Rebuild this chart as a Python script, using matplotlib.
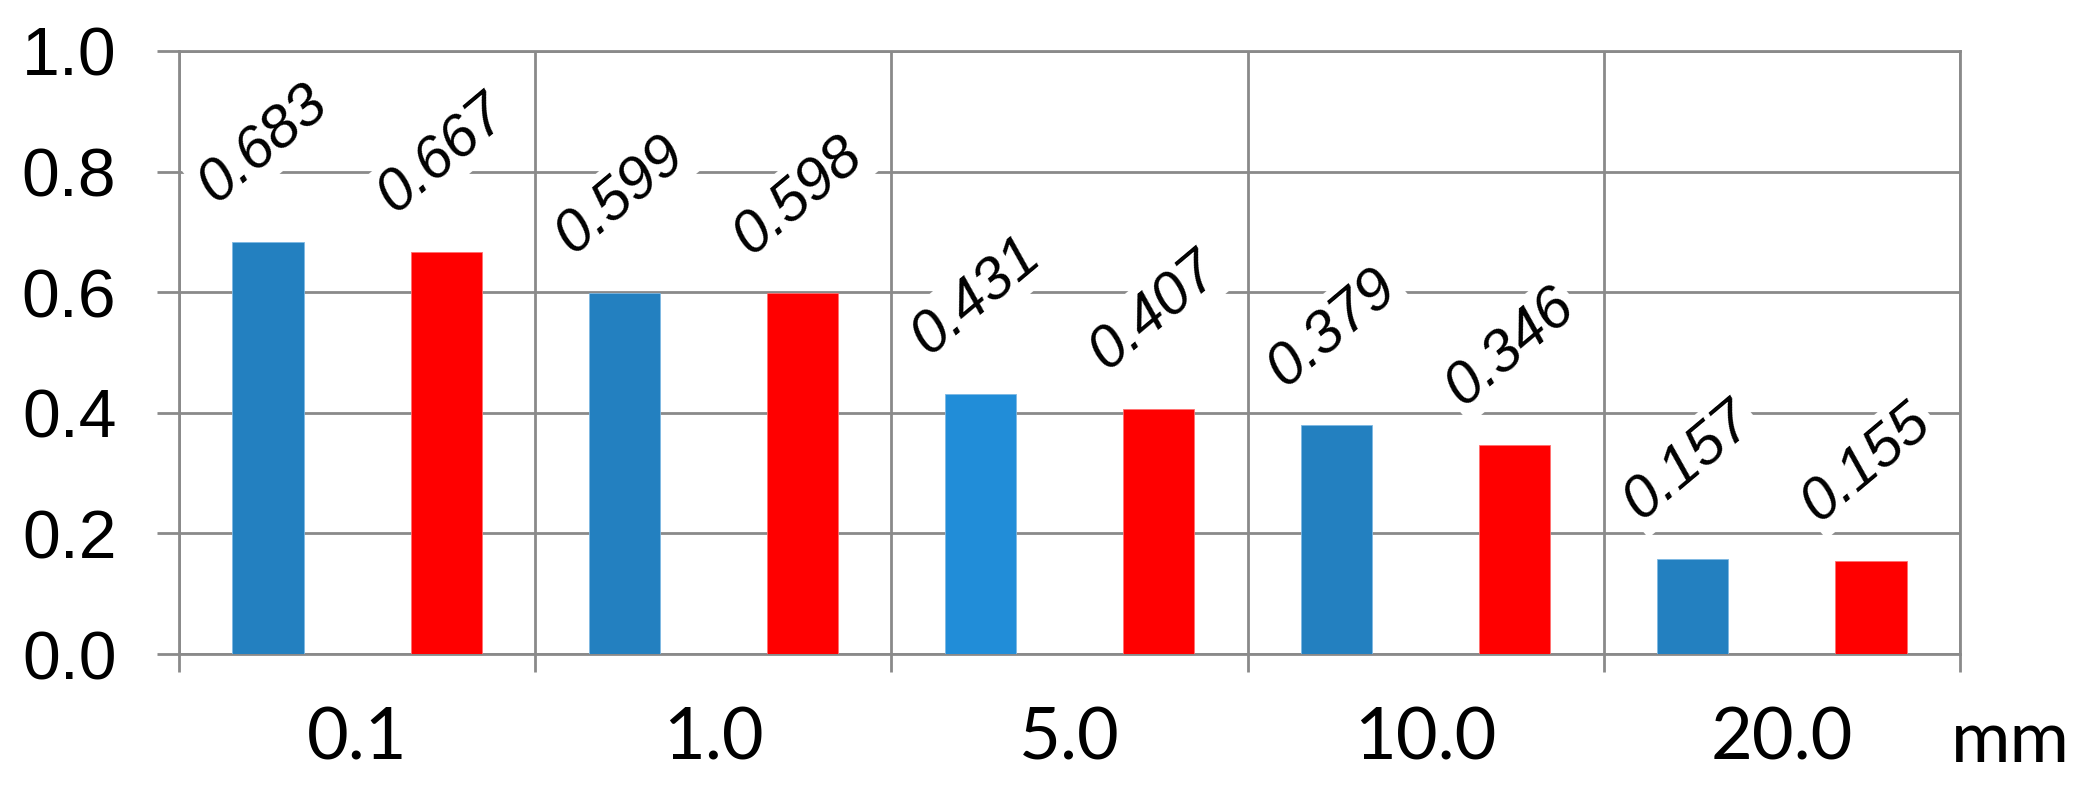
import matplotlib
matplotlib.use("Agg")
import numpy as np
import matplotlib.pyplot as plt
from matplotlib.ticker import FixedLocator, NullFormatter, FixedFormatter

# data
categories = ["0.1", "1.0", "5.0", "10.0", "20.0"]
blue_values = [0.683, 0.599, 0.431, 0.379, 0.157]
red_values = [0.667, 0.598, 0.407, 0.346, 0.155]
blue_colors = ["#2380C0", "#2380C0", "#218DD8", "#2380C0", "#2380C0"]
red_color = "#FF0000"
y_ticks = [0.0, 0.2, 0.4, 0.6, 0.8, 1.0]
unit_label = "mm"

GRID = "#8A8A8A"

fig = plt.figure(figsize=(20.92, 7.87), dpi=100)
ax = fig.add_axes([179 / 2092, 133 / 787, 1781 / 2092, 603 / 787])

n = len(categories)
x = np.arange(n)
ax.bar(x + 0.25, blue_values, width=0.2, color=blue_colors, zorder=2,
       edgecolor="#7DB8E3", linewidth=0.6)
ax.bar(x + 0.75, red_values, width=0.2, color=red_color, zorder=2,
       edgecolor="#FF7070", linewidth=0.6)

ax.set_xlim(0, n)
ax.set_ylim(0, 1.0)

# category boundaries carry the ticks and grid, centres carry the labels
ax.xaxis.set_major_locator(FixedLocator(list(range(n + 1))))
ax.xaxis.set_major_formatter(NullFormatter())
ax.xaxis.set_minor_locator(FixedLocator(list(x + 0.5)))
ax.xaxis.set_minor_formatter(FixedFormatter(categories))
ax.tick_params(axis="x", which="major", length=13, width=2.0, color=GRID,
               direction="out")
ax.tick_params(axis="x", which="minor", length=0, pad=38, labelsize=52)
for lab in ax.get_xticklabels(minor=True):
    lab.set_fontfamily("Lato")

ax.set_yticks(y_ticks)
ax.set_yticklabels([f"{v:.1f}" for v in y_ticks])
ax.tick_params(axis="y", length=16, width=2.0, color=GRID, pad=29,
               labelsize=49)
for lab in ax.get_yticklabels():
    lab.set_fontfamily("Liberation Sans")

ax.grid(True, axis="both", which="major", color=GRID, linewidth=2.0, zorder=1)
ax.set_axisbelow(True)
for side in ["left", "right", "top", "bottom"]:
    ax.spines[side].set_color(GRID)
    ax.spines[side].set_linewidth(2.0)
    ax.spines[side].set_zorder(1.5)

# rotated value labels with white boxes
for xs, vals in [(x + 0.25, blue_values), (x + 0.75, red_values)]:
    for xi, v in zip(xs, vals):
        ax.annotate(f"{v:.3f}", xy=(xi, v), xytext=(-3, 70),
                    textcoords="offset points", ha="center", va="center",
                    rotation=40, rotation_mode="anchor", fontsize=43,
                    fontstyle="italic", family="Liberation Sans", zorder=5,
                    bbox=dict(boxstyle="square,pad=0.08", fc="white",
                              ec="none"))

ax.text(0.995, -0.179, unit_label, transform=ax.transAxes, ha="left",
        va="baseline", fontsize=52, family="Lato")

fig.savefig("out.png", dpi=100, facecolor="white")
